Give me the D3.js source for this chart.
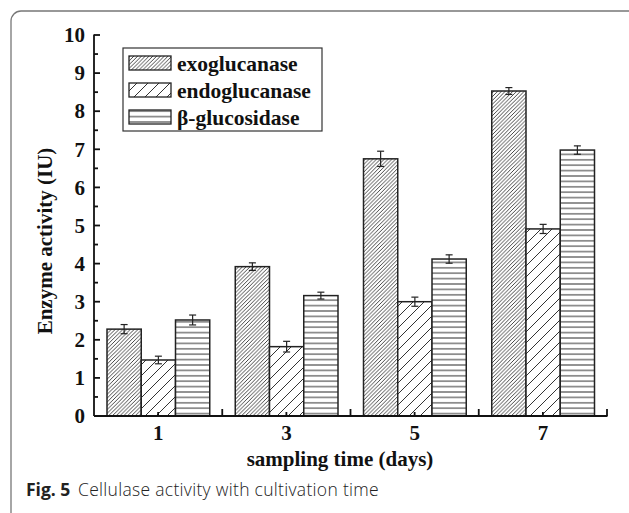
<!DOCTYPE html>
<html>
<head>
<meta charset="utf-8">
<script src="https://cdn.jsdelivr.net/npm/d3@7"></script>
<style>
  html, body { margin: 0; padding: 0; background: #fff; }
  svg { display: block; }
</style>
</head>
<body>
<svg id="chart" width="629" height="513"></svg>
<script>
// ---- data ----
const categories = ["1", "3", "5", "7"];
const seriesNames = ["exoglucanase", "endoglucanase", "β-glucosidase"];
const exoValues   = [2.28, 3.92, 6.75, 8.53];
const exoErrors   = [0.12, 0.10, 0.20, 0.09];
const endoValues  = [1.47, 1.82, 3.00, 4.91];
const endoErrors  = [0.10, 0.14, 0.12, 0.12];
const betaValues  = [2.52, 3.16, 4.12, 6.98];
const betaErrors  = [0.13, 0.09, 0.11, 0.11];
const yTicks = [0, 1, 2, 3, 4, 5, 6, 7, 8, 9, 10];
const xTitle = "sampling time (days)";
const yTitle = "Enzyme activity (IU)";
const captionBold = "Fig. 5";
const captionText = "Cellulase activity with cultivation time";

const series = [
  { name: seriesNames[0], values: exoValues, errors: exoErrors, pattern: "p-exo" },
  { name: seriesNames[1], values: endoValues, errors: endoErrors, pattern: "p-endo" },
  { name: seriesNames[2], values: betaValues, errors: betaErrors, pattern: "p-beta" }
];

const svg = d3.select("#chart");
const serif = "'Liberation Serif', 'Times New Roman', serif";

// ---- frame ----
svg.append("rect")
  .attr("x", 11).attr("y", 11).attr("width", 640).attr("height", 530)
  .attr("rx", 10).attr("ry", 10)
  .attr("fill", "none").attr("stroke", "#777").attr("stroke-width", 1.3);

// ---- patterns ----
const defs = svg.append("defs");
function diagPattern(id, s, sw) {
  const p = defs.append("pattern").attr("id", id)
    .attr("patternUnits", "userSpaceOnUse").attr("width", s).attr("height", s);
  p.append("rect").attr("width", s).attr("height", s).attr("fill", "#fff");
  p.append("path")
    .attr("d", `M0,${s} L${s},0 M${-s/2},${s/2} L${s/2},${-s/2} M${s/2},${s*1.5} L${s*1.5},${s/2}`)
    .attr("stroke", "#333").attr("stroke-width", sw);
}
diagPattern("p-exo", 3.8, 0.9);
diagPattern("p-endo", 11, 1.0);
(function () {
  const s = 5.4;
  const p = defs.append("pattern").attr("id", "p-beta")
    .attr("patternUnits", "userSpaceOnUse").attr("width", 10).attr("height", s)
    .attr("y", 0.5);
  p.append("rect").attr("width", 10).attr("height", s).attr("fill", "#fff");
  p.append("line").attr("x1", 0).attr("x2", 10).attr("y1", s / 2).attr("y2", s / 2)
    .attr("stroke", "#444").attr("stroke-width", 1.1);
})();

// ---- scales ----
const x = d3.scaleBand().domain(categories).range([94, 607]).paddingInner(0).paddingOuter(0);
const inner = d3.scaleBand().domain(seriesNames).range([13, x.bandwidth() - 12.5]);
const y = d3.scaleLinear().domain([0, 10]).range([416, 35]);

// ---- bars ----
const g = svg.append("g");
series.forEach(s => {
  categories.forEach((c, i) => {
    const bx = x(c) + inner(s.name);
    const bw = inner.bandwidth();
    g.append("rect")
      .attr("x", bx).attr("y", y(s.values[i]))
      .attr("width", bw).attr("height", y(0) - y(s.values[i]))
      .attr("fill", `url(#${s.pattern})`)
      .attr("stroke", "#222").attr("stroke-width", 1.5);
  });
});
// error bars
series.forEach(s => {
  categories.forEach((c, i) => {
    const cx = x(c) + inner(s.name) + inner.bandwidth() / 2;
    const top = y(s.values[i] + s.errors[i]);
    const bot = y(s.values[i] - s.errors[i]);
    const eb = g.append("g").attr("stroke", "#222").attr("stroke-width", 1.2);
    eb.append("line").attr("x1", cx).attr("x2", cx).attr("y1", top).attr("y2", bot);
    eb.append("line").attr("x1", cx - 3.5).attr("x2", cx + 3.5).attr("y1", top).attr("y2", top);
    eb.append("line").attr("x1", cx - 3.5).attr("x2", cx + 3.5).attr("y1", bot).attr("y2", bot);
  });
});

// ---- axes ----
const axisG = svg.append("g").attr("stroke", "#111").attr("stroke-width", 1.8);
axisG.append("line").attr("x1", 94).attr("x2", 607.5).attr("y1", y(0)).attr("y2", y(0));
axisG.append("line").attr("x1", 94).attr("x2", 94).attr("y1", y(0)).attr("y2", y(10) - 0.5);

// y ticks (inward)
yTicks.forEach(t => {
  axisG.append("line").attr("x1", 94).attr("x2", 100).attr("y1", y(t)).attr("y2", y(t));
  if (t < 10) {
    axisG.append("line").attr("x1", 94).attr("x2", 98).attr("y1", y(t + 0.5)).attr("y2", y(t + 0.5));
  }
});
// x ticks (inward): major at band boundaries, minor at centers
categories.forEach(c => {
  const xe = x(c) + x.bandwidth();
  axisG.append("line").attr("x1", xe).attr("x2", xe).attr("y1", y(0)).attr("y2", y(0) - 7);
  const xc = x(c) + x.bandwidth() / 2;
  axisG.append("line").attr("x1", xc).attr("x2", xc).attr("y1", y(0)).attr("y2", y(0) - 4);
});

// y tick labels via d3 axis
const yAxis = d3.axisLeft(y).tickValues(yTicks).tickSize(0).tickPadding(9).tickFormat(d3.format("d"));
const yAx = svg.append("g").attr("transform", "translate(94,0)").call(yAxis);
yAx.select(".domain").remove();
yAx.selectAll("text").attr("font-family", serif).attr("font-weight", "bold")
  .attr("font-size", 21).attr("fill", "#111");

const xAxis = d3.axisBottom(x).tickSize(0).tickPadding(9);
const xAx = svg.append("g").attr("transform", `translate(0,${y(0)})`).call(xAxis);
xAx.select(".domain").remove();
xAx.selectAll("text").attr("font-family", serif).attr("font-weight", "bold")
  .attr("font-size", 21).attr("fill", "#111");

// titles
svg.append("text").attr("x", 340).attr("y", 466).attr("text-anchor", "middle")
  .attr("font-family", serif).attr("font-weight", "bold").attr("font-size", 21).attr("fill", "#111")
  .text(xTitle);
svg.append("text").attr("transform", "translate(52,241) rotate(-90)").attr("text-anchor", "middle")
  .attr("font-family", serif).attr("font-weight", "bold").attr("font-size", 21).attr("fill", "#111")
  .text(yTitle);

// ---- legend ----
const lg = svg.append("g");
lg.append("rect").attr("x", 123).attr("y", 48).attr("width", 199).attr("height", 83)
  .attr("fill", "#fff").attr("stroke", "#333").attr("stroke-width", 1.2);
series.forEach((s, i) => {
  const cy = 63 + i * 27;
  lg.append("rect").attr("x", 129).attr("y", cy - 7).attr("width", 42).attr("height", 14)
    .attr("fill", `url(#${s.pattern})`).attr("stroke", "#222").attr("stroke-width", 1.3);
  lg.append("text").attr("x", 177).attr("y", cy).attr("dy", "0.35em")
    .attr("font-family", serif).attr("font-weight", "bold").attr("font-size", 21.5).attr("fill", "#111")
    .text(s.name);
});

// ---- caption ----
const cap = svg.append("text").attr("x", 26).attr("y", 496)
  .attr("font-family", "'Open Sans', 'Noto Sans', sans-serif").attr("font-size", 17.5).attr("fill", "#222");
cap.append("tspan").attr("font-weight", "bold").text(captionBold);
cap.append("tspan").attr("x", 78).attr("font-weight", 300).attr("letter-spacing", 0.3).text(captionText);
</script>
</body>
</html>
